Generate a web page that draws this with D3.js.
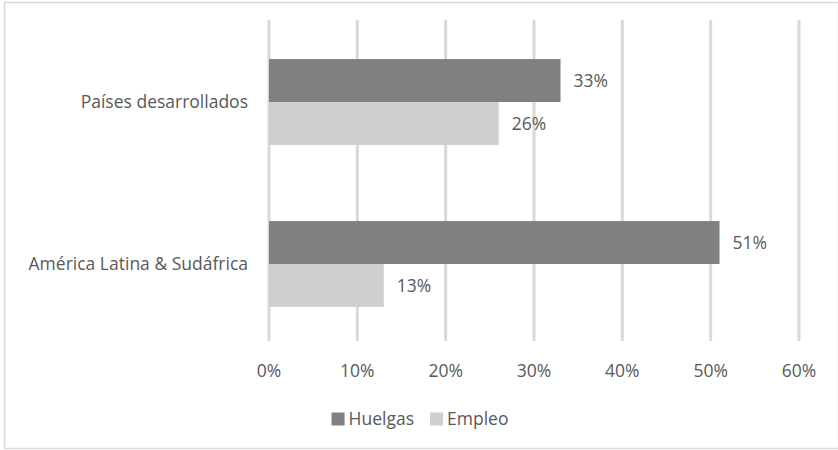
<!DOCTYPE html>
<html>
<head>
<meta charset="utf-8">
<script src="https://cdn.jsdelivr.net/npm/d3@7"></script>
<style>
  body { margin: 0; background: #fff; }
  text { font-family: "Open Sans", sans-serif; fill: #595959; }
</style>
</head>
<body>
<div id="chart"></div>
<script>
var categories = ['Países desarrollados', 'América Latina & Sudáfrica']
var series = ['Huelgas', 'Empleo']
var huelgas = [0.33, 0.51]
var empleo = [0.26, 0.13]
var ticks = [0, 0.1, 0.2, 0.3, 0.4, 0.5, 0.6]
var colors = ['#808080', '#d0cfd0']

var width = 838
var height = 450
var fs = 17.5

var svg = d3.select('#chart').append('svg')
  .attr('width', width)
  .attr('height', height)

// outer border
svg.append('rect')
  .attr('x', 4.5).attr('y', 2.5)
  .attr('width', 834).attr('height', 446)
  .attr('fill', 'none')
  .attr('stroke', '#d9d9d9')
  .attr('stroke-width', 1.5)

var x = d3.scaleLinear().domain([0, 0.6]).range([269, 799])
var y = d3.scaleBand().domain(categories).range([21, 345]).paddingInner(0.47).paddingOuter(0.235)
var y1 = d3.scaleBand().domain(series).range([0, y.bandwidth()])

// gridlines
svg.append('g').selectAll('line')
  .data(ticks)
  .join('line')
  .attr('x1', function (d) { return x(d) })
  .attr('x2', function (d) { return x(d) })
  .attr('y1', 20)
  .attr('y2', 341)
  .attr('stroke', '#d9d9d9')
  .attr('stroke-width', 3)

var rows = categories.map(function (c, i) {
  return [{ s: 'Huelgas', v: huelgas[i], c: c }, { s: 'Empleo', v: empleo[i], c: c }]
})

var g = svg.append('g').selectAll('g')
  .data(rows)
  .join('g')
  .attr('transform', function (d) { return 'translate(0,' + y(d[0].c) + ')' })

g.selectAll('rect')
  .data(function (d) { return d })
  .join('rect')
  .attr('x', x(0))
  .attr('y', function (d) { return y1(d.s) })
  .attr('width', function (d) { return x(d.v) - x(0) })
  .attr('height', y1.bandwidth())
  .attr('fill', function (d, i) { return colors[i] })

g.selectAll('text')
  .data(function (d) { return d })
  .join('text')
  .attr('x', function (d) { return x(d.v) + 13 })
  .attr('y', function (d) { return y1(d.s) + y1.bandwidth() / 2 })
  .attr('dy', '0.35em')
  .attr('font-size', fs)
  .text(function (d) { return d3.format('.0%')(d.v) })

// category labels
svg.append('g').selectAll('text')
  .data(categories)
  .join('text')
  .attr('x', 248)
  .attr('y', function (d) { return y(d) + y.bandwidth() / 2 })
  .attr('dy', '0.35em')
  .attr('text-anchor', 'end')
  .attr('font-size', fs)
  .text(function (d) { return d })

// x axis tick labels
svg.append('g').selectAll('text')
  .data(ticks)
  .join('text')
  .attr('x', function (d) { return x(d) })
  .attr('y', 371)
  .attr('dy', '0.35em')
  .attr('text-anchor', 'middle')
  .attr('font-size', fs)
  .text(function (d) { return d3.format('.0%')(d) })

// legend, laid out from measured text widths and centred
var legend = svg.append('g').attr('transform', 'translate(0,419)')
var lg = legend.selectAll('g')
  .data(series)
  .join('g')
lg.append('rect')
  .attr('x', 0).attr('y', -6.5)
  .attr('width', 13).attr('height', 13)
  .attr('fill', function (d, i) { return colors[i] })
lg.append('text')
  .attr('x', 17)
  .attr('dy', '0.35em')
  .attr('font-size', fs)
  .text(function (d) { return d })
var pos = 0
lg.each(function () {
  var w = d3.select(this).select('text').node().getComputedTextLength()
  d3.select(this).attr('transform', 'translate(' + pos + ',0)')
  pos += 17 + w + 16
})
var total = pos - 16
legend.attr('transform', 'translate(' + (420 - total / 2) + ',419)')
</script>
</body>
</html>
